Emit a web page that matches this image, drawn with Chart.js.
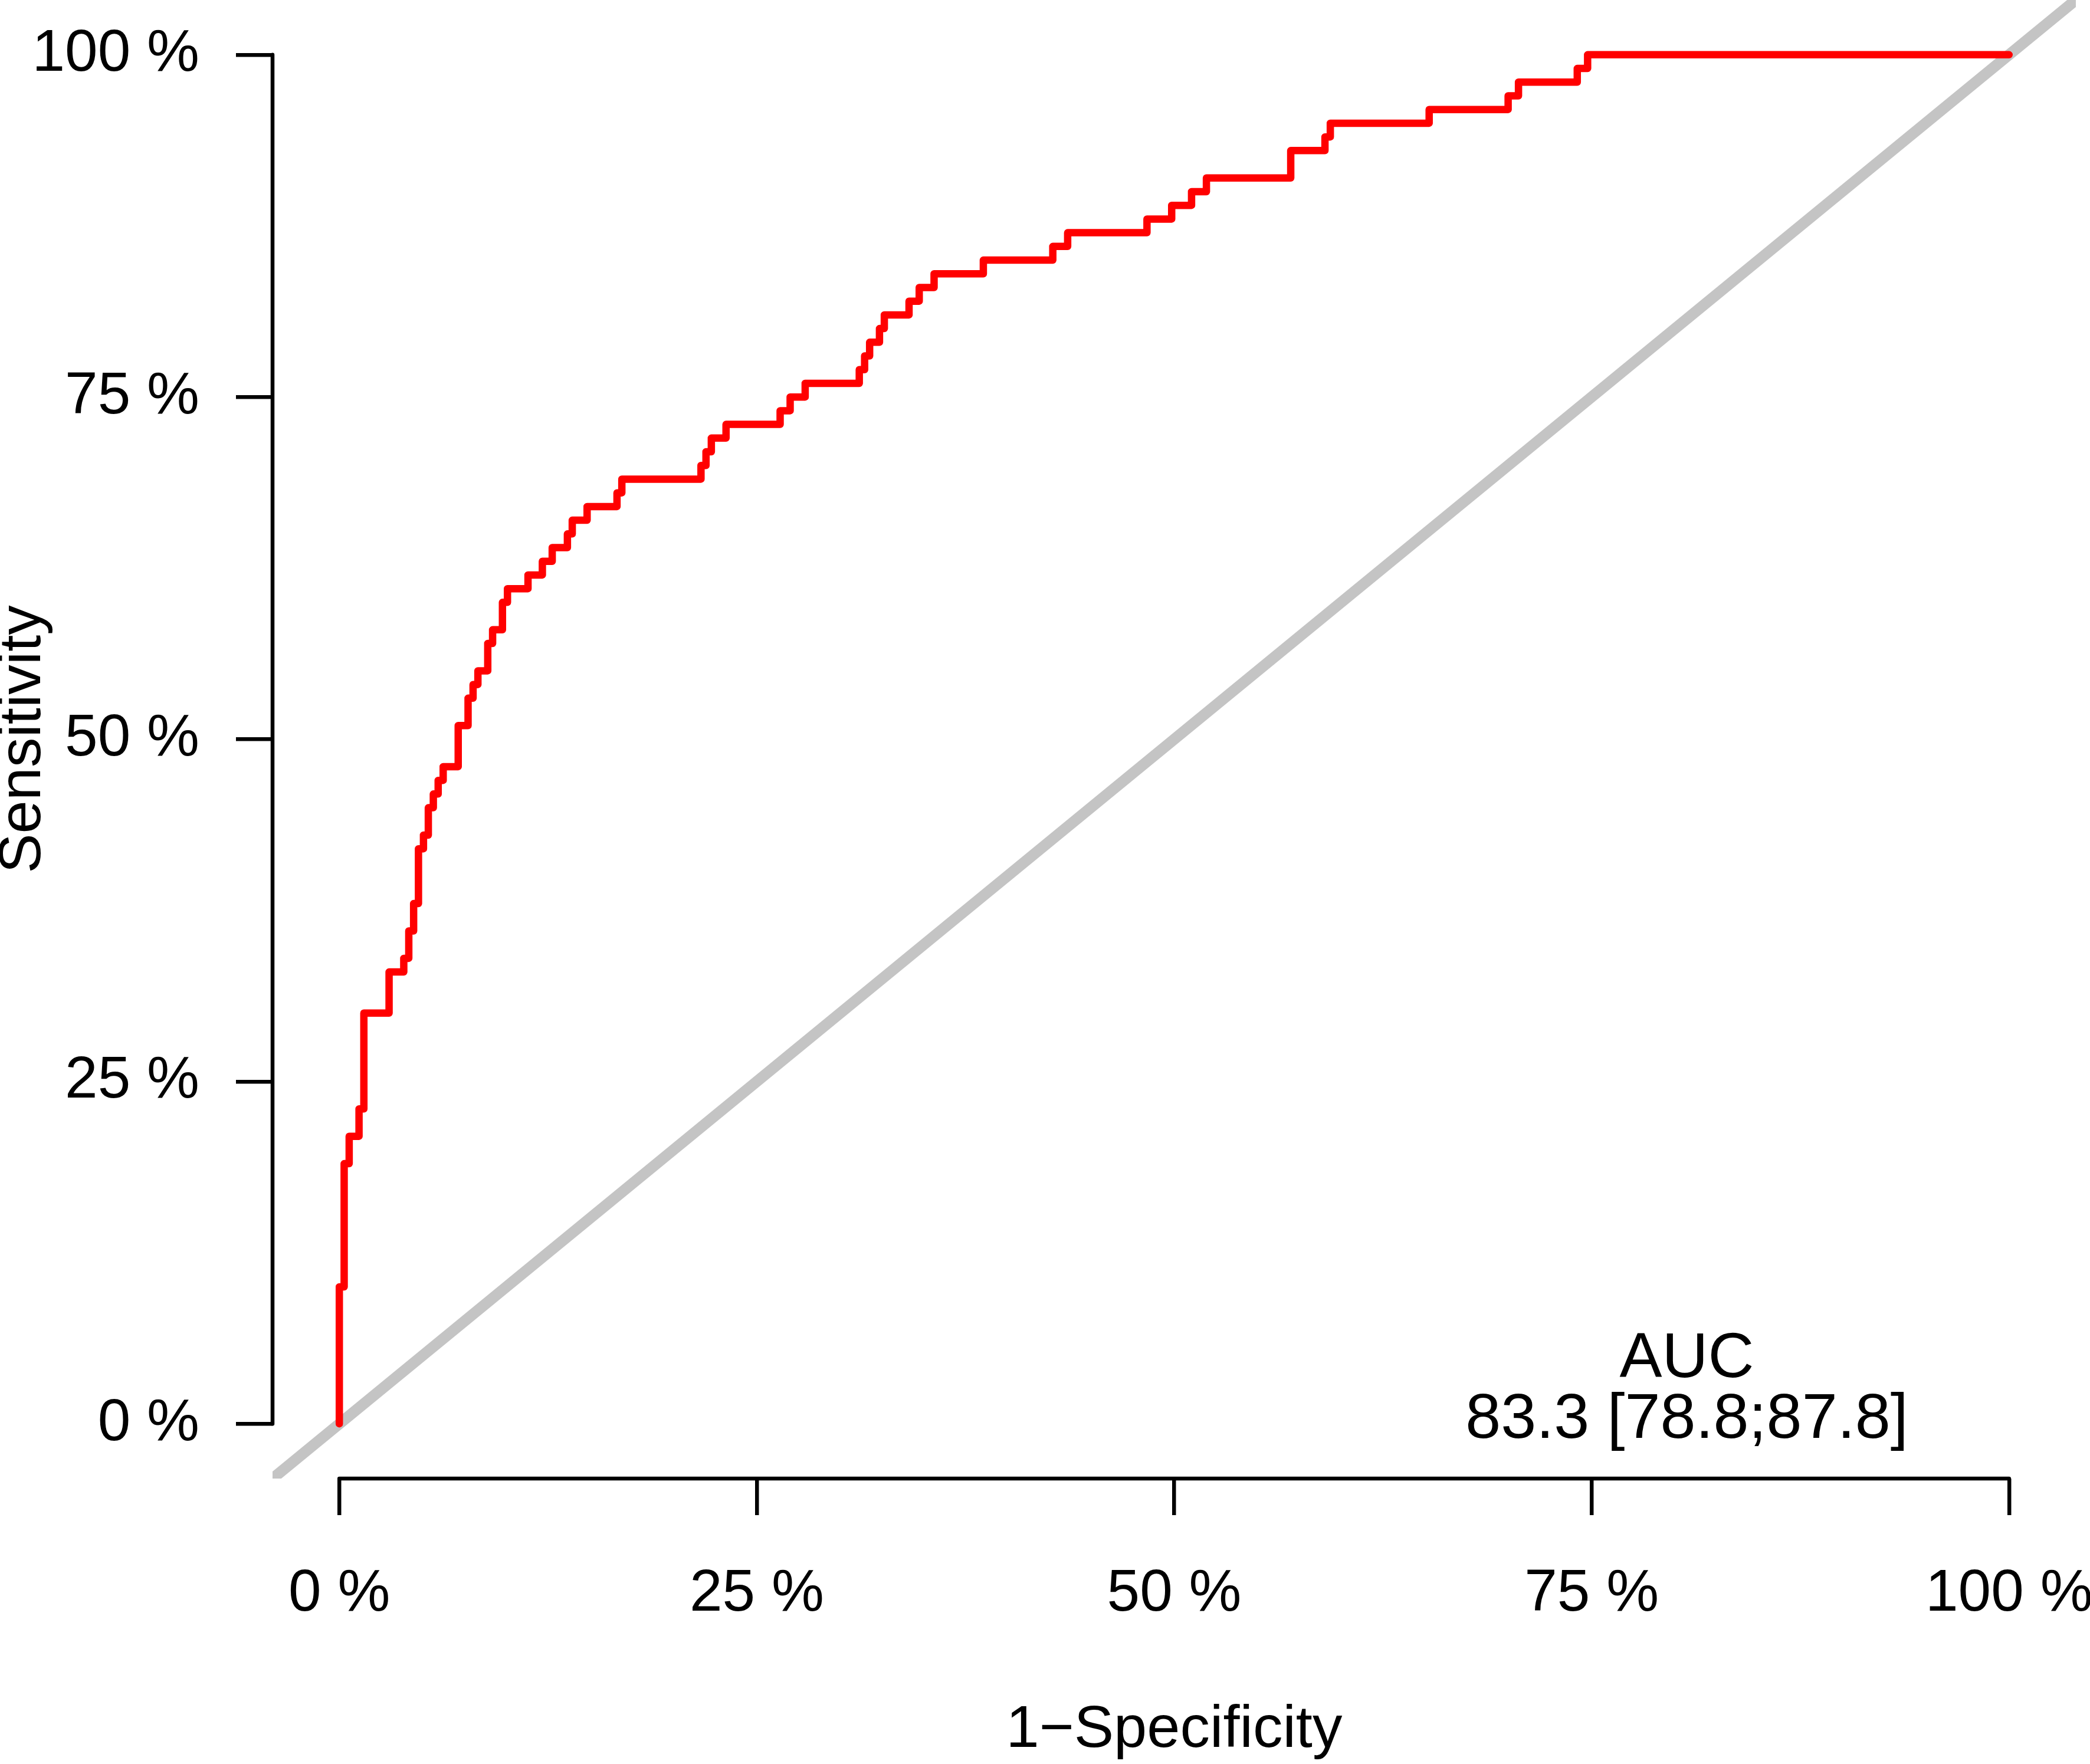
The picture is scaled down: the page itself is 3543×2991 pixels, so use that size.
<!DOCTYPE html>
<html lang="en">
<head>
    <meta charset="UTF-8">
    <title>ROC curve</title>
    <script src="https://cdn.jsdelivr.net/npm/chart.js"></script>
    <style>
        html, body { margin: 0; padding: 0; background: #fff; }
        canvas { display: block; }
    </style>
</head>
<body>
    <canvas id="rocChart" width="3543" height="2991"></canvas>

    <script>
        // ROC curve (percent), one point per step
        const fpr = [0, 0, 0.29, 0.59, 1.18, 1.47, 2.98, 3.86, 4.16, 4.45, 4.74, 5.04, 5.33, 5.63, 5.92, 6.22,
            7.12, 7.71, 8.01, 8.30, 8.89, 9.18, 9.77, 10.07, 11.30, 12.16, 12.75, 13.66, 13.95, 14.84,
            16.63, 16.92, 21.66, 21.96, 22.28, 23.16, 26.40, 27.00, 27.90, 31.14, 31.46, 31.76, 32.35,
            32.64, 34.12, 34.73, 35.62, 38.57, 42.73, 43.62, 48.37, 49.85, 51.04, 51.93, 56.98, 59.03,
            59.35, 65.27, 70.00, 70.62, 74.14, 74.76, 100];
        const sensitivity = [0, 10, 19, 21, 23, 30, 33, 34, 36, 38, 42, 43, 45, 46, 47, 48,
            51, 53, 54, 55, 57, 58, 60, 61, 62, 63, 64, 65, 66, 67,
            68, 69, 70, 71, 72, 73, 74, 75, 76, 77, 78, 79, 80,
            81, 82, 83, 84, 85, 86, 87, 88, 89, 90, 91, 93, 94,
            95, 96, 97, 98, 99, 100, 100];

        // identity line, running past both ends of the plot region
        const identity = [-10, 110];

        const xTicks = [0, 25, 50, 75, 100];
        const yTicks = [0, 25, 50, 75, 100];
        const xTickLabels = ['0 %', '25 %', '50 %', '75 %', '100 %'];
        const yTickLabels = ['0 %', '25 %', '50 %', '75 %', '100 %'];

        const aucTitle = 'AUC';
        const aucText = '83.3 [78.8;87.8]';

        const FONT = '"Liberation Sans", Arial, Helvetica, sans-serif';
        Chart.defaults.font.family = FONT;
        Chart.defaults.color = '#000';

        // R style axes: line only from first to last tick, plus the AUC text
        const rAxes = {
            id: 'rAxes',
            afterDraw(chart) {
                const {ctx, chartArea, scales: {x, y}} = chart;
                ctx.save();
                ctx.strokeStyle = '#000';
                ctx.lineWidth = 6.5;
                ctx.lineCap = 'round';
                ctx.beginPath();
                ctx.moveTo(x.getPixelForValue(xTicks[0]), chartArea.bottom);
                ctx.lineTo(x.getPixelForValue(xTicks[xTicks.length - 1]), chartArea.bottom);
                ctx.moveTo(chartArea.left, y.getPixelForValue(yTicks[0]));
                ctx.lineTo(chartArea.left, y.getPixelForValue(yTicks[yTicks.length - 1]));
                ctx.stroke();

                ctx.fillStyle = '#000';
                ctx.font = '108px ' + FONT;
                ctx.textAlign = 'center';
                ctx.textBaseline = 'alphabetic';
                const ax = x.getPixelForValue(80.7);
                const ay = y.getPixelForValue(3.4);
                ctx.fillText(aucTitle, ax, ay);
                ctx.fillText(aucText, ax, ay + 103);
                ctx.restore();
            }
        };

        const tickFont = {size: 100, family: FONT};

        new Chart(document.getElementById('rocChart').getContext('2d'), {
            type: 'line',
            data: {
                datasets: [{
                    label: 'ROC',
                    data: fpr.map((v, i) => ({x: v, y: sensitivity[i]})),
                    borderColor: '#ff0000',
                    borderWidth: 12.5,
                    borderCapStyle: 'round',
                    borderJoinStyle: 'round',
                    stepped: 'before',
                    pointRadius: 0,
                    fill: false,
                    order: 0
                }, {
                    label: 'identity',
                    data: identity.map(v => ({x: v, y: v})),
                    borderColor: '#c4c4c4',
                    borderWidth: 18.75,
                    pointRadius: 0,
                    fill: false,
                    clip: 0,
                    order: 1
                }]
            },
            options: {
                responsive: false,
                devicePixelRatio: 1,
                animation: false,
                layout: {padding: {left: 0, top: 0, right: 24, bottom: 0}},
                plugins: {legend: {display: false}, tooltip: {enabled: false}},
                scales: {
                    x: {
                        type: 'linear',
                        min: -4,
                        max: 104,
                        afterBuildTicks: s => { s.ticks = xTicks.map(v => ({value: v})); },
                        afterFit: s => { s.height = 484; s.paddingLeft = 0; s.paddingRight = 0; },
                        ticks: {
                            callback: (v, i) => xTickLabels[i],
                            font: tickFont,
                            color: '#000',
                            padding: 74,
                            maxRotation: 0,
                            autoSkip: false
                        },
                        grid: {drawOnChartArea: false, drawTicks: true, tickLength: 62, color: '#000', lineWidth: 6.5},
                        border: {display: false},
                        title: {
                            display: true,
                            text: '1\u2212Specificity',
                            color: '#000',
                            font: {size: 101, family: FONT, lineHeight: 1.12},
                            padding: 0
                        }
                    },
                    y: {
                        type: 'linear',
                        min: -4,
                        max: 104,
                        afterBuildTicks: s => { s.ticks = yTicks.map(v => ({value: v})); },
                        afterFit: s => { s.width = 462; s.paddingTop = 0; s.paddingBottom = 0; },
                        ticks: {
                            callback: (v, i) => yTickLabels[i],
                            font: tickFont,
                            color: '#000',
                            padding: 62,
                            autoSkip: false
                        },
                        grid: {drawOnChartArea: false, drawTicks: true, tickLength: 62, color: '#000', lineWidth: 6.5},
                        border: {display: false},
                        title: {
                            display: true,
                            text: 'Sensitivity',
                            color: '#000',
                            font: {size: 101, family: FONT, lineHeight: 0.8},
                            padding: 0
                        }
                    }
                }
            },
            plugins: [rAxes]
        });
    </script>
</body>
</html>
